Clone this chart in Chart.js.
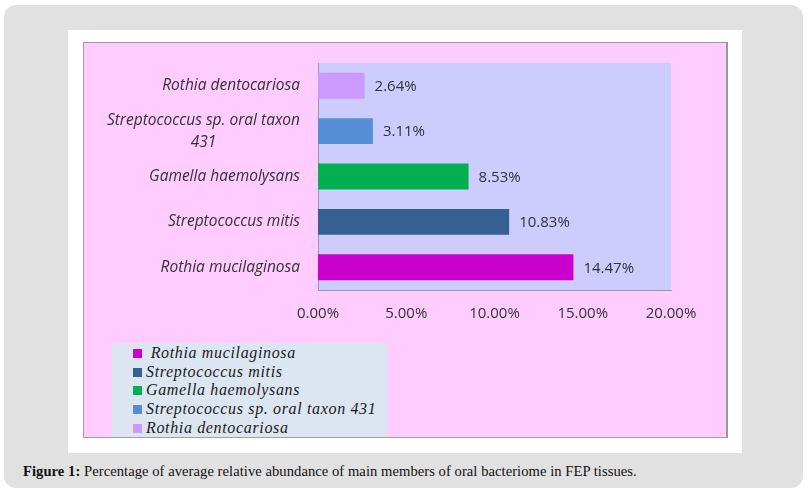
<!DOCTYPE html>
<html>
<head>
<meta charset="utf-8">
<script src="https://cdn.jsdelivr.net/npm/chart.js@4.4.1/dist/chart.umd.min.js"></script>
<style>
    body { margin: 0; background: #fff; width: 810px; height: 496px; position: relative; overflow: hidden; }
    .outer { position: absolute; left: 4px; top: 5px; width: 799px; height: 483px; background: #e1e1e1; border-radius: 12px; }
    .panel { position: absolute; left: 68px; top: 30px; width: 674px; height: 423px; background: #fff; }
    .pink { position: absolute; left: 83px; top: 42px; width: 645px; height: 396px; box-sizing: border-box;
            background: #ffccff; border: 1px solid #a0a0a0; border-top-color: #999; border-right: 2px solid #999; }
    .pink canvas { position: absolute; left: 0; top: 0; }
    #legend { position: absolute; left: 112px; top: 343px; width: 275px; height: 94px; background: #dce6f1;
              font-family: "Liberation Serif", "DejaVu Serif", serif; font-style: italic; font-size: 16px;
              letter-spacing: 0.65px; color: #1a1a1a; }
    #legend .item { position: absolute; left: 21px; height: 18px; line-height: 18px; white-space: nowrap; }
    #legend .box { display: inline-block; width: 9px; height: 9px; margin-right: 4px; vertical-align: 0px; }
    .caption { position: absolute; left: 23px; top: 463px; font-family: "Liberation Serif", serif; font-size: 14.6px;
               letter-spacing: 0.05px; color: #111; white-space: nowrap; }
</style>
</head>
<body>
<div class="outer"></div>
<div class="panel"></div>
<div class="pink"><canvas id="barChart" width="643" height="394"></canvas></div>
<div id="legend"></div>
<div class="caption"><b>Figure 1:</b> Percentage of average relative abundance of main members of oral bacteriome in FEP tissues.</div>

<script>
// Data (top to bottom as shown on the axis)
const species = ['Rothia dentocariosa', 'Streptococcus sp. oral taxon 431', 'Gamella haemolysans', 'Streptococcus mitis', 'Rothia mucilaginosa'];
const axisLabels = ['Rothia dentocariosa', ['Streptococcus sp. oral taxon', '431'], 'Gamella haemolysans', 'Streptococcus mitis', 'Rothia mucilaginosa'];
const abundance = [2.64, 3.11, 8.53, 10.83, 14.47];
const barColors = ['#cc99ff', '#558ed5', '#00b050', '#366092', '#cc00cc'];
const xTicks = [0, 5, 10, 15, 20];

const labelFont = '"Open Sans", "DejaVu Sans", sans-serif';

// --- plot background ---
const plotBg = {
    id: 'plotBg',
    beforeDraw(chart) {
        const { ctx, chartArea } = chart;
        ctx.save();
        ctx.fillStyle = '#ccccff';
        ctx.fillRect(chartArea.left, chartArea.top, chartArea.right - chartArea.left, chartArea.bottom - chartArea.top);
        ctx.restore();
    }
};

// --- category labels (multi-line ones centred under their widest line) ---
const catLabels = {
    id: 'catLabels',
    afterDraw(chart) {
        const { ctx } = chart;
        const yScale = chart.scales.y;
        const right = chart.chartArea.left - 18;
        ctx.save();
        ctx.font = 'italic 15.5px ' + labelFont;
        ctx.fillStyle = '#333';
        ctx.textBaseline = 'middle';
        axisLabels.forEach((lab, i) => {
            const lines = Array.isArray(lab) ? lab : [lab];
            const y = yScale.getPixelForValue(i);
            const widest = Math.max(...lines.map(l => ctx.measureText(l).width));
            const lineH = 22;
            const y0 = y - (lines.length - 1) * lineH / 2;
            ctx.textAlign = 'center';
            lines.forEach((l, k) => ctx.fillText(l, right - widest / 2, y0 + k * lineH));
        });
        ctx.restore();
    }
};

// --- value labels at the end of each bar ---
const valueLabels = {
    id: 'valueLabels',
    afterDatasetsDraw(chart) {
        const { ctx } = chart;
        const meta = chart.getDatasetMeta(0);
        ctx.save();
        ctx.font = '15px ' + labelFont;
        ctx.fillStyle = '#333';
        ctx.textAlign = 'left';
        ctx.textBaseline = 'middle';
        meta.data.forEach((bar, i) => {
            ctx.fillText(abundance[i].toFixed(2) + '%', bar.x + 10, bar.y + 1);
        });
        ctx.restore();
    }
};

const ctx = document.getElementById('barChart').getContext('2d');
new Chart(ctx, {
    type: 'bar',
    data: {
        labels: axisLabels,
        datasets: [{
            data: abundance,
            backgroundColor: barColors,
            borderWidth: 0,
            barPercentage: 0.57,
            categoryPercentage: 1
        }]
    },
    options: {
        indexAxis: 'y',
        responsive: false,
        animation: false,
        layout: { padding: { top: 20, right: 56, left: 0, bottom: 0 } },
        plugins: {
            legend: { display: false },
            tooltip: { enabled: false }
        },
        scales: {
            x: {
                min: xTicks[0],
                max: xTicks[xTicks.length - 1],
                afterBuildTicks: scale => { scale.ticks = xTicks.map(v => ({ value: v })); },
                afterFit: scale => { scale.height = 147; },
                grid: { display: false, drawTicks: false },
                border: { display: true, color: '#999', width: 1 },
                ticks: {
                    padding: 15,
                    color: '#333',
                    font: { family: labelFont, size: 15 },
                    callback: v => v.toFixed(2) + '%'
                }
            },
            y: {
                afterFit: scale => { scale.width = 234; },
                grid: { display: false, drawTicks: false },
                border: { display: true, color: '#999', width: 1 },
                ticks: { display: false }
            }
        }
    },
    plugins: [plotBg, catLabels, valueLabels]
});

// --- legend (reverse of axis order) ---
const legendEl = document.getElementById('legend');
species.slice().reverse().forEach((name, k) => {
    const color = barColors[species.length - 1 - k];
    const item = document.createElement('div');
    item.className = 'item';
    item.style.top = (1 + k * 18.7) + 'px';
    item.innerHTML = `<span class="box" style="background:${color}"></span>${k === 0 ? '&nbsp;' : ''}${name}`;
    legendEl.appendChild(item);
});
</script>
</body>
</html>
